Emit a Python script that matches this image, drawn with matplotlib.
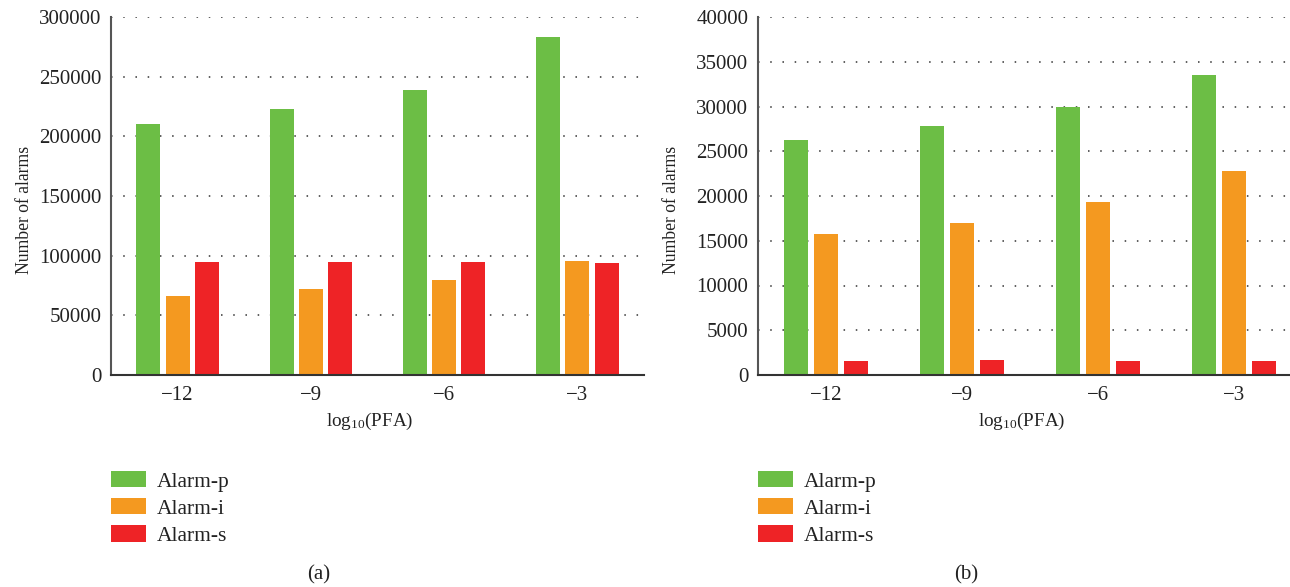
import matplotlib
matplotlib.use("Agg")
import matplotlib.pyplot as plt
import numpy as np
from matplotlib.patches import Patch

plt.rcParams["font.family"] = ["Liberation Serif", "DejaVu Serif"]
plt.rcParams["mathtext.fontset"] = "custom"
plt.rcParams["mathtext.rm"] = "Liberation Serif"
plt.rcParams["mathtext.it"] = "Liberation Serif:italic"

categories = ["\u221212", "\u22129", "\u22126", "\u22123"]
series_names = ["Alarm-p", "Alarm-i", "Alarm-s"]
colors = ["#6CBE45", "#F49920", "#EE2326"]

# Panel (a)
alarm_p_a = [210000, 223000, 239000, 283300]
alarm_i_a = [66400, 72300, 79800, 95700]
alarm_s_a = [94900, 94900, 94900, 94000]

# Panel (b)
alarm_p_b = [26270, 27830, 29950, 33530]
alarm_i_b = [15780, 17000, 19350, 22810]
alarm_s_b = [1600, 1710, 1600, 1600]

W, H = 1290, 587
fig = plt.figure(figsize=(W / 100, H / 100), dpi=100)

def fx(px):
    return px / W

def fy(py):
    return 1 - py / H

ax_a = fig.add_axes([fx(111), fy(375), fx(644 - 111), fy(17) - fy(375)])
ax_b = fig.add_axes([fx(758), fy(375), fx(1290 - 758), fy(17) - fy(375)])

TEXT = "#222222"

def draw_panel(ax, data, ymax, step, xright, spine_px, width_px):
    x = np.arange(len(categories))
    width = 0.18
    offsets = [-0.22, 0.0, 0.22]
    for vals, off, col, name in zip(data, offsets, colors, series_names):
        ax.bar(x + off, vals, width=width, color=col, label=name, zorder=3)
    ax.set_xlim(-0.5, xright)
    ax.set_ylim(0, ymax)
    ax.set_yticks(np.arange(0, ymax + 1, step))
    ax.set_xticks(x)
    ax.set_xticklabels(categories)
    ax.tick_params(axis="both", length=0, labelsize=15, colors=TEXT)
    ax.tick_params(axis="x", pad=8)
    ax.tick_params(axis="y", pad=7)
    for t in ax.get_yticks()[1:]:
        ax.axhline(t, color="#333333", lw=1.1, linestyle=(0, (1, 7.0)), zorder=1)
    for s in ["top", "right"]:
        ax.spines[s].set_visible(False)
    ax.spines["left"].set_color("#555555")
    ax.spines["left"].set_linewidth(1.5)
    ax.spines["bottom"].set_color("#333333")
    ax.spines["bottom"].set_linewidth(1.5)
    ax.spines["bottom"].set_zorder(4)
    ax.set_ylabel("Number of alarms", fontsize=12.7, color=TEXT)
    ax.yaxis.set_label_coords(-78 / width_px, (375 - 210) / 358)
    ax.set_xlabel(r"$\mathrm{log}_{10}$(PFA)", fontsize=13.8, color=TEXT)
    ax.xaxis.set_label_coords((259 if spine_px == 111 else 264) / width_px, -36 / 358)

draw_panel(ax_a, [alarm_p_a, alarm_i_a, alarm_s_a], 300000, 50000, 3.5, 111, 533)
draw_panel(ax_b, [alarm_p_b, alarm_i_b, alarm_s_b], 40000, 5000, 3.5 - 12 / 135.5, 758, 532)

handles = [Patch(facecolor=c, edgecolor="none", label=n) for c, n in zip(colors, series_names)]
for xpx, tag, tx in [(111, "(a)", 319), (758, "(b)", 966)]:
    fig.legend(handles=handles, loc="upper left", bbox_to_anchor=(fx(xpx), fy(471)),
               frameon=False, fontsize=15.5, handlelength=1.63, handleheight=0.79,
               handletextpad=0.5, labelspacing=0.3, borderpad=0, borderaxespad=0,
               labelcolor=TEXT)
    fig.text(fx(tx), fy(575), tag, fontsize=15, ha="center", va="center", color=TEXT)

fig.savefig("out.png", dpi=100)
